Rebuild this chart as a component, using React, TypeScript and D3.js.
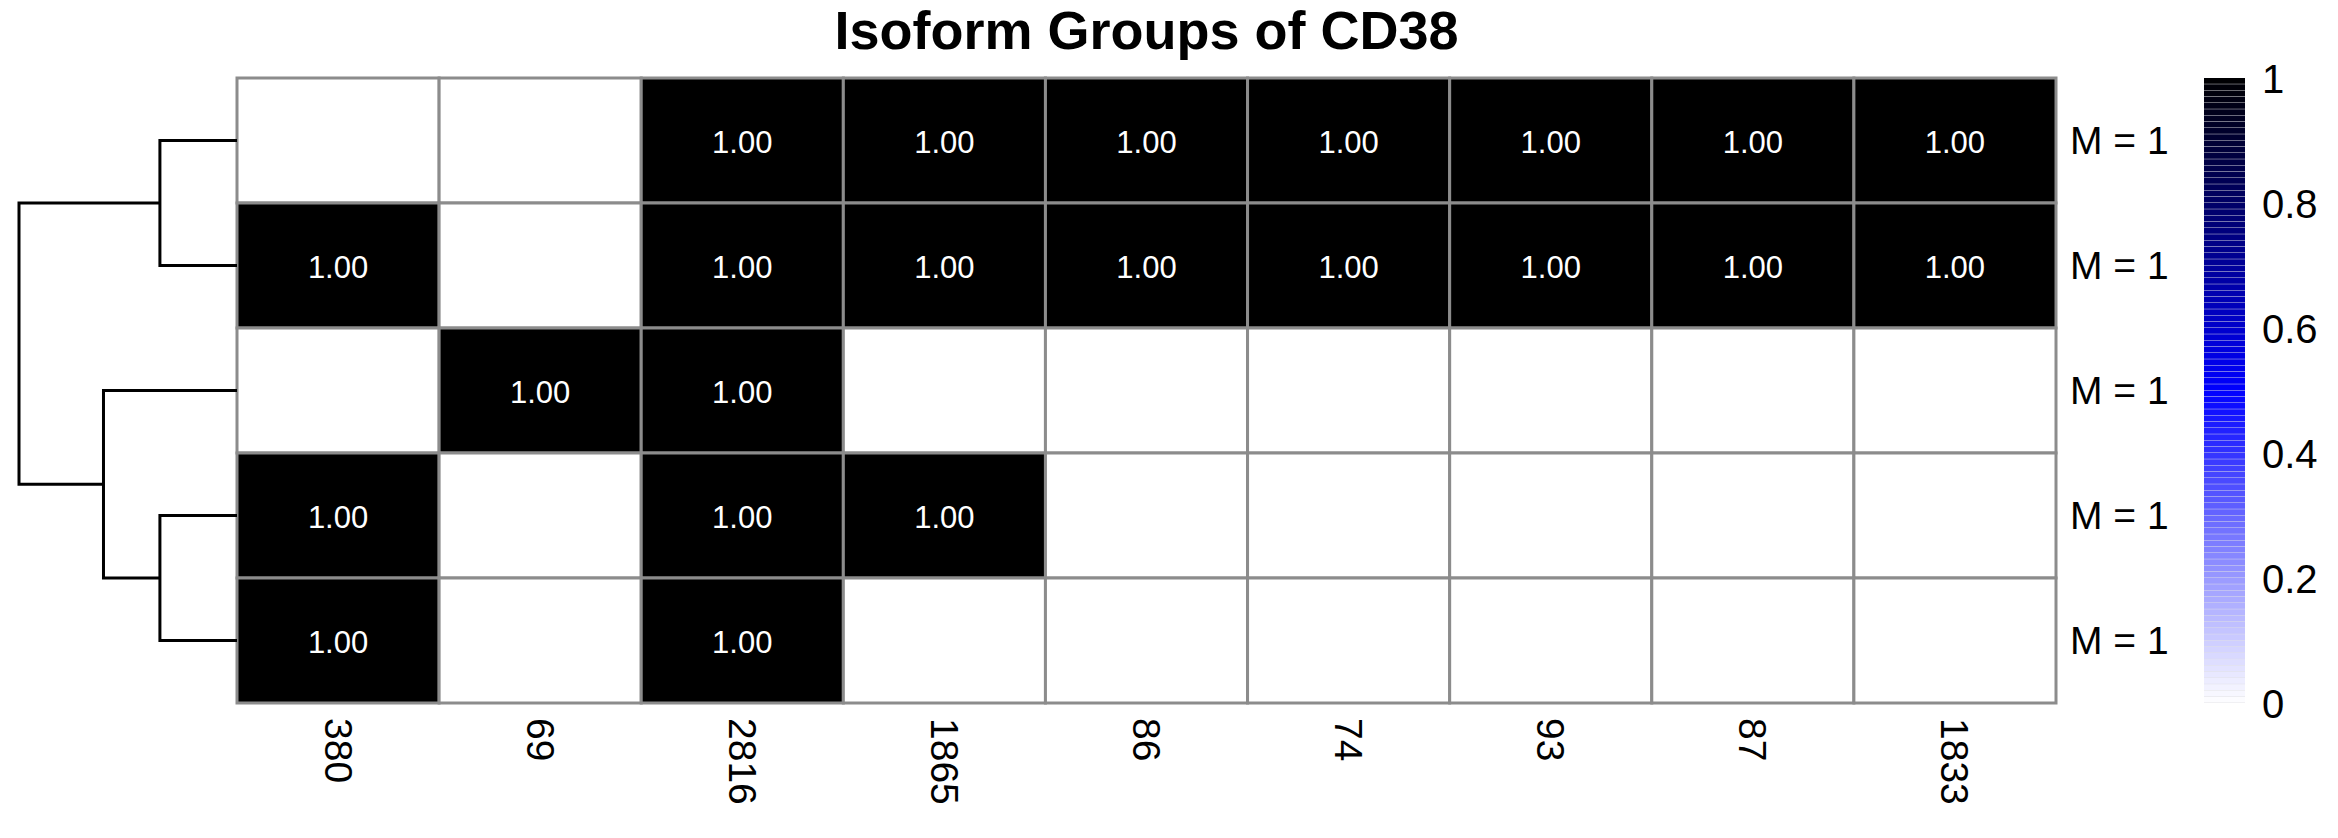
import React from "react";
import * as d3 from "d3";

const title = "Isoform Groups of CD38";
const columns = ["380", "69", "2816", "1865", "86", "74", "93", "87", "1833"];
const rowLabels = ["M = 1", "M = 1", "M = 1", "M = 1", "M = 1"];
const row1 = [0, 0, 1, 1, 1, 1, 1, 1, 1];
const row2 = [1, 0, 1, 1, 1, 1, 1, 1, 1];
const row3 = [0, 1, 1, 0, 0, 0, 0, 0, 0];
const row4 = [1, 0, 1, 1, 0, 0, 0, 0, 0];
const row5 = [1, 0, 1, 0, 0, 0, 0, 0, 0];
const matrix = [row1, row2, row3, row4, row5];
// dendrogram merges: [left, right, height]; negative = leaf index (-(i+1)), positive = merge index (1-based)
const merges: [number, number, number][] = [
  [-1, -2, 1.0],
  [-4, -5, 1.0],
  [-3, 2, 1.732],
  [1, 3, 2.828],
];
const legendTicks = [0, 0.2, 0.4, 0.6, 0.8, 1];

const W = 2338, H = 838;
const gx0 = 237, gx1 = 2056, gy0 = 78, gy1 = 703;
const FONT = "'Liberation Sans', Arial, Helvetica, sans-serif";

export default function App() {
  const x = d3.scaleBand<string>().domain(columns).range([gx0, gx1]);
  const y = d3.scaleBand<number>().domain(d3.range(matrix.length)).range([gy0, gy1]);
  const color = d3.scaleLinear<string>().domain([0, 0.5, 1]).range(["#ffffff", "#0000ff", "#000000"]);
  const maxH = d3.max(merges, (m) => m[2]) as number;
  const hx = d3.scaleLinear().domain([0, maxH]).range([gx0, 19]);

  const nodes: { y: number; h: number }[] = [];
  const pos = (id: number) => {
    if (id < 0) return { y: (y(-id - 1) as number) + y.bandwidth() / 2, h: 0 };
    return nodes[id - 1];
  };
  const segs: string[] = [];
  merges.forEach(([a, b, h]) => {
    const pa = pos(a), pb = pos(b);
    const X = hx(h);
    segs.push(`M${hx(pa.h)},${pa.y}H${X}V${pb.y}H${hx(pb.h)}`);
    nodes.push({ y: (pa.y + pb.y) / 2, h });
  });

  const lx0 = 2204, lx1 = 2245;
  const ly = d3.scaleLinear().domain([0, 1]).range([gy1, gy0]);
  const nSteps = 100;
  const steps = d3.range(nSteps).map((i) => (i + 0.5) / nSteps);
  const stepH = (gy1 - gy0) / nSteps;

  return (
    <svg width={W} height={H} style={{ position: "absolute", left: 0, top: 0, background: "#fff" }} fontFamily={FONT}>
      <rect x={0} y={0} width={W} height={H} fill="#fff" />
      <text x={(gx0 + gx1) / 2} y={49} textAnchor="middle" fontWeight="bold" fontSize={54} fill="#000">
        {title}
      </text>
      {matrix.map((row, ri) =>
        row.map((v, ci) => (
          <rect
            key={`c${ri}-${ci}`}
            x={x(columns[ci])}
            y={y(ri)}
            width={x.bandwidth()}
            height={y.bandwidth()}
            fill={color(v)}
            stroke="#8c8c8c"
            strokeWidth={3}
          />
        ))
      )}
      {matrix.map((row, ri) =>
        row.map((v, ci) =>
          v > 0 ? (
            <text
              key={`t${ri}-${ci}`}
              x={(x(columns[ci]) as number) + x.bandwidth() / 2}
              y={(y(ri) as number) + y.bandwidth() / 2 + 2}
              textAnchor="middle"
              dominantBaseline="central"
              fontSize={31}
              fill="#fff"
            >
              {v.toFixed(2)}
            </text>
          ) : null
        )
      )}
      {segs.map((d, i) => (
        <path key={`d${i}`} d={d} fill="none" stroke="#000" strokeWidth={3} />
      ))}
      {rowLabels.map((l, ri) => (
        <text
          key={`r${ri}`}
          x={2070}
          y={(y(ri) as number) + y.bandwidth() / 2}
          dominantBaseline="central"
          fontSize={39}
          fill="#000"
        >
          {l}
        </text>
      ))}
      {columns.map((c) => {
        const cx = (x(c) as number) + x.bandwidth() / 2;
        return (
          <text
            key={`col${c}`}
            transform={`translate(${cx},${718}) rotate(90)`}
            dominantBaseline="central"
            fontSize={39}
            fill="#000"
          >
            {c}
          </text>
        );
      })}
      <rect x={lx0} y={gy0} width={lx1 - lx0} height={gy1 - gy0} fill="#9a9aa8" opacity={0.3} />
      {steps.map((s, i) => (
        <rect
          key={`l${i}`}
          x={lx0}
          y={ly(s) - stepH / 2}
          width={lx1 - lx0}
          height={stepH - 0.45}
          fill={color(s)}
        />
      ))}
      {legendTicks.map((t) => (
        <text key={`lt${t}`} x={2262} y={ly(t) + 1} dominantBaseline="central" fontSize={40} fill="#000">
          {d3.format("~g")(t)}
        </text>
      ))}
    </svg>
  );
}
